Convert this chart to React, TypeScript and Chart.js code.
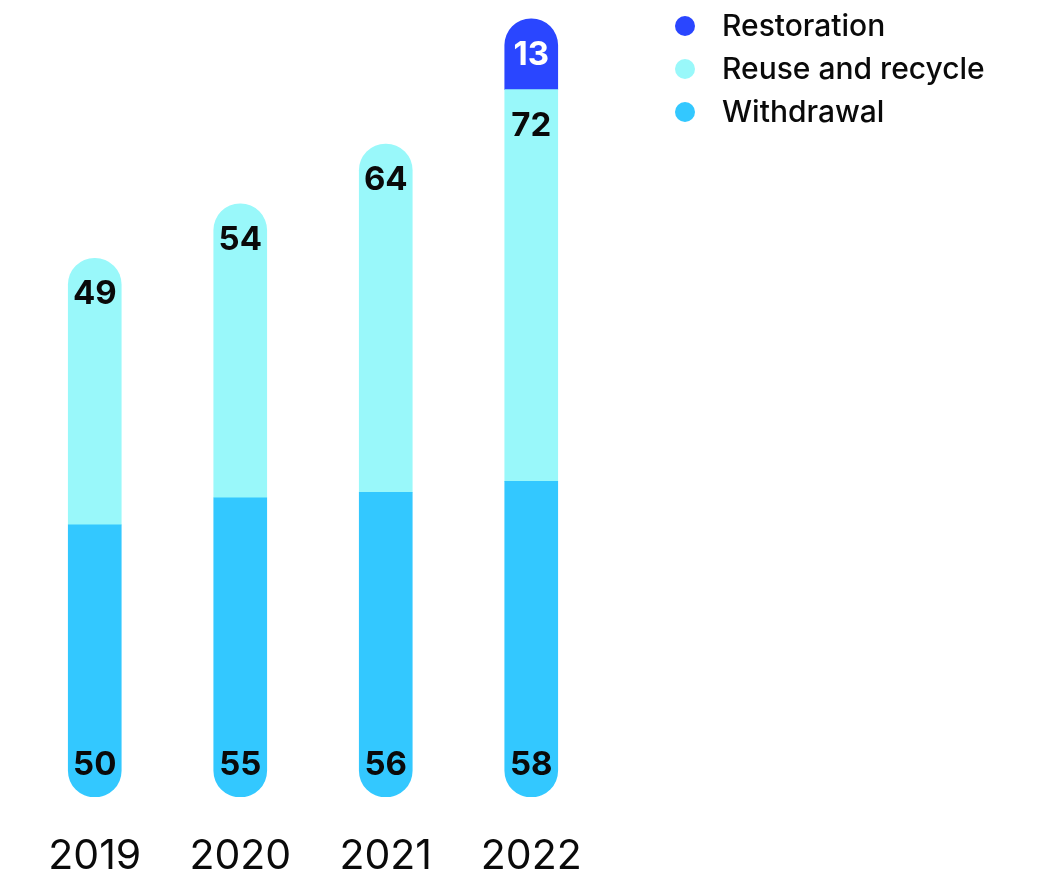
import React, { useEffect, useRef } from "react";
import { Chart, registerables } from "chart.js";

Chart.register(...registerables);

const years = ["2019", "2020", "2021", "2022"];
const withdrawal = [50, 55, 56, 58];
const reuseRecycle = [49, 54, 64, 72];
const restoration: (number | null)[] = [null, null, null, 13];

const seriesNames = ["Withdrawal", "Reuse and recycle", "Restoration"];
const seriesColors = ["#33C8FF", "#99F8FA", "#2A46FF"];
const labelColors = ["#0A0A0A", "#0A0A0A", "#FFFFFF"];

const FONT = "Inter, 'DejaVu Sans', sans-serif";

const valueLabelPlugin = {
  id: "valueLabels",
  afterDatasetsDraw(chart: any) {
    const ctx = chart.ctx;
    ctx.save();
    ctx.font = `700 33px ${FONT}`;
    ctx.textAlign = "center";
    ctx.textBaseline = "middle";
    chart.data.datasets.forEach((ds: any, di: number) => {
      const meta = chart.getDatasetMeta(di);
      meta.data.forEach((el: any, i: number) => {
        const v = ds.data[i];
        if (v === null || v === undefined) return;
        const { x, y, base } = el.getProps(["x", "y", "base"], true);
        let ty: number;
        if (di === 0) ty = base - 33;
        else if (di === 1) ty = y + 35;
        else ty = (y + base) / 2;
        ctx.fillStyle = labelColors[di];
        ctx.fillText(String(v), x, ty + 1);
      });
    });
    ctx.restore();
  },
};

const legendPlugin = {
  id: "customLegend",
  afterDraw(chart: any) {
    const ctx = chart.ctx;
    ctx.save();
    ctx.font = `500 30px ${FONT}`;
    ctx.textAlign = "left";
    ctx.textBaseline = "middle";
    const order = [2, 1, 0];
    order.forEach((di, row) => {
      const cy = 18 + row * 43;
      ctx.fillStyle = seriesColors[di];
      ctx.beginPath();
      ctx.arc(677, cy, 10, 0, Math.PI * 2);
      ctx.fill();
      ctx.fillStyle = "#0A0A0A";
      ctx.fillText(seriesNames[di], 714, cy + 1);
    });
    ctx.restore();
  },
};

export default function App() {
  const ref = useRef<HTMLCanvasElement | null>(null);
  useEffect(() => {
    if (!ref.current) return;
    const chart = new Chart(ref.current, {
      type: "bar",
      data: {
        labels: years,
        datasets: [
          { label: seriesNames[0], data: withdrawal, backgroundColor: seriesColors[0] },
          { label: seriesNames[1], data: reuseRecycle, backgroundColor: seriesColors[1] },
          { label: seriesNames[2], data: restoration, backgroundColor: seriesColors[2] },
        ].map((d) => ({
          ...d,
          borderRadius: 27,
          borderSkipped: "middle" as const,
          borderWidth: 0,
          barThickness: 53,
        })),
      },
      options: {
        animation: false,
        responsive: true,
        maintainAspectRatio: false,
        layout: { padding: { left: 14, right: 427, top: 0, bottom: 0 } },
        plugins: { legend: { display: false }, tooltip: { enabled: false } },
        scales: {
          x: {
            stacked: true,
            grid: { display: false },
            border: { display: false },
            ticks: {
              color: "#0A0A0A",
              padding: 27,
              font: { family: FONT, size: 41, weight: "400" as any },
            },
            afterFit: (s: any) => {
              s.height = 73;
            },
          },
          y: {
            stacked: true,
            display: false,
            min: 0,
            max: 145,
          },
        },
      },
      plugins: [valueLabelPlugin, legendPlugin],
    });
    return () => chart.destroy();
  }, []);
  return (
    <div style={{ position: "relative", width: 1023, height: 862 }}>
      <canvas ref={ref} />
    </div>
  );
}
